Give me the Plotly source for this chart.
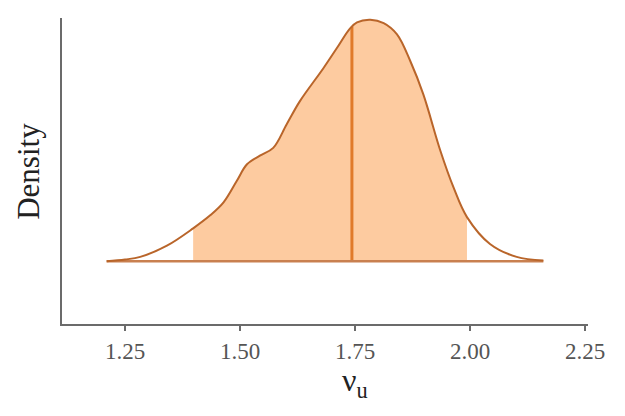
import numpy as np
import plotly.graph_objects as go

# density curve
nu_u = [1.210, 1.250, 1.283, 1.341, 1.398, 1.435, 1.464, 1.493, 1.515, 1.543,
        1.572, 1.601, 1.630, 1.681, 1.710, 1.739, 1.754, 1.783, 1.812, 1.841,
        1.870, 1.898, 1.935, 1.964, 1.993, 2.043, 2.101, 2.159]
density = [0.00, 0.02, 0.05, 0.18, 0.38, 0.53, 0.68, 0.93, 1.12, 1.22,
           1.31, 1.58, 1.85, 2.23, 2.46, 2.69, 2.76, 2.79, 2.75, 2.62,
           2.31, 1.93, 1.28, 0.85, 0.51, 0.20, 0.05, 0.01]
interval = [1.398, 1.993]
median = 1.743
tick_vals = [1.25, 1.50, 1.75, 2.00, 2.25]
tick_text = ["1.25", "1.50", "1.75", "2.00", "2.25"]

FILL = "#FDCBA0"
OUTLINE = "#B9652A"
MEDIAN_C = "#E07A2A"
BASE_C = "#C98050"
SERIF = "Liberation Serif, Times New Roman, serif"

x = np.array(nu_u)
y = np.array(density)
mask = (x >= interval[0]) & (x <= interval[1])

fig = go.Figure()
fig.add_trace(go.Scatter(x=x[mask], y=y[mask], mode="lines", line=dict(width=0, shape="spline", color=FILL),
                         fill="tozeroy", fillcolor=FILL, hoverinfo="skip", showlegend=False))
fig.add_trace(go.Scatter(x=[median, median], y=[0, float(np.interp(median, x, y))], mode="lines",
                         line=dict(color=MEDIAN_C, width=3), showlegend=False))
fig.add_trace(go.Scatter(x=[x.min(), x.max()], y=[0, 0], mode="lines",
                         line=dict(color=BASE_C, width=2.5), showlegend=False))
fig.add_trace(go.Scatter(x=x, y=y, mode="lines", line=dict(color=OUTLINE, width=2, shape="spline"),
                         showlegend=False))

fig.update_layout(
    width=625, height=416,
    margin=dict(l=54, r=45, t=10, b=100),
    plot_bgcolor="white", paper_bgcolor="white",
    font=dict(family=SERIF, color="#555555"),
    xaxis=dict(range=[1.113, 2.256], tickvals=tick_vals, ticktext=tick_text,
               showgrid=False, zeroline=False, showline=True, linecolor="#6b6b6b", linewidth=2,
               ticks="outside", ticklen=5, tickwidth=1.5, tickcolor="#6b6b6b",
               tickfont=dict(size=23, color="#555555", family=SERIF)),
    yaxis=dict(range=[-0.725, 2.81], showticklabels=False, showgrid=False, zeroline=False,
               showline=True, linecolor="#6b6b6b", linewidth=2, ticks=""),
    annotations=[
        dict(text="Density", xref="paper", yref="paper", x=-0.065, y=0.50, xanchor="center", yanchor="middle",
             textangle=-90, showarrow=False, font=dict(size=31, color="#222222", family=SERIF)),
        dict(text="ν<sub>u</sub>", xref="paper", yref="paper", x=0.557, y=-0.19, xanchor="center", yanchor="middle",
             showarrow=False, font=dict(size=32, color="#222222", family=SERIF)),
        dict(text=":", xref="paper", yref="paper", x=1.052, y=0.48, xanchor="left", yanchor="middle",
             showarrow=False, font=dict(size=24, color="#333333", family=SERIF)),
    ],
)

fig.write_html("out.html")
